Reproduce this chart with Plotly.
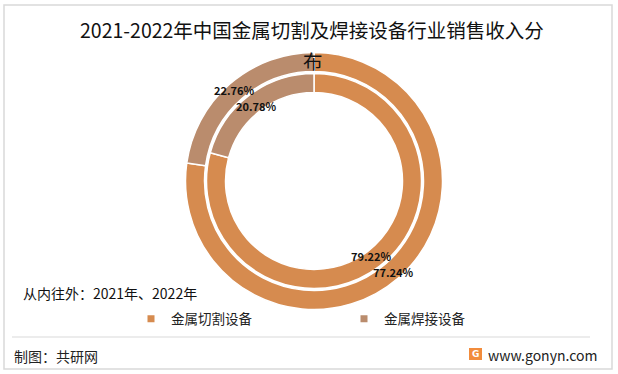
import math
import plotly.graph_objects as go

# ---- data ----
categories = ["金属切割设备", "金属焊接设备"]
values_2021 = [79.22, 20.78]   # inner ring
values_2022 = [77.24, 22.76]   # outer ring
colors = ["#D68B4F", "#BA8C6D"]

title_line1 = "2021-2022年中国金属切割及焊接设备行业销售收入分"
title_line2 = "布"
subtitle = "从内往外：2021年、2022年"
source_text = "制图：共研网"
site_text = "www.gonyn.com"

W, H = 618, 374
FONT = "Noto Sans CJK SC"


def px(x):
    return x / W


def py(y):
    return 1 - y / H


cx, cy = 314, 181
rings = [
    # (values, outer radius, inner radius, label radius)
    (values_2022, 128.5, 109.5, 121),
    (values_2021, 107.5, 88.5, 94),
]


def domain(r):
    return dict(x=[px(cx - r), px(cx + r)], y=[py(cy + r), py(cy - r)])


fig = go.Figure()
ann = []
for vals, r_out, r_in, r_lab in rings:
    fig.add_trace(go.Pie(
        labels=categories, values=vals, sort=False, direction="clockwise",
        rotation=0, hole=r_in / r_out, domain=domain(r_out),
        marker=dict(colors=colors, line=dict(color="white", width=1.5)),
        textinfo="none", showlegend=False, hoverinfo="label+value",
    ))
    # data labels at each slice's mid-angle
    total = sum(vals)
    cum = 0.0
    for v in vals:
        mid = (cum + v / 2) / total * 2 * math.pi
        cum += v
        lx = cx + r_lab * math.sin(mid)
        ly = cy - r_lab * math.cos(mid)
        ann.append(dict(text=f"<b>{v:.2f}%</b>", x=px(lx), y=py(ly),
                        xref="paper", yref="paper", xanchor="center", yanchor="middle",
                        showarrow=False,
                        font=dict(family=FONT, size=11, color="#111111")))

# legend entries
for name, col in zip(categories, colors):
    fig.add_trace(go.Scatter(
        x=[None], y=[None], mode="markers", name=name,
        marker=dict(symbol="square", size=7, color=col),
        showlegend=True,
    ))

fig.update_layout(
    width=W, height=H,
    margin=dict(l=0, r=0, t=0, b=0),
    paper_bgcolor="white", plot_bgcolor="white",
    xaxis=dict(visible=False), yaxis=dict(visible=False),
    showlegend=True,
    legend=dict(
        orientation="h", x=px(131), xanchor="left", y=py(319), yanchor="middle",
        font=dict(family=FONT, size=13.5, color="#222222"),
        entrywidth=168, entrywidthmode="pixels",
        bgcolor="rgba(0,0,0,0)", itemclick=False, itemdoubleclick=False,
    ),
    font=dict(family=FONT),
)

ann.append(dict(text=title_line1, x=px(312), y=py(30), xref="paper", yref="paper",
                xanchor="center", yanchor="middle", showarrow=False,
                font=dict(family=FONT, size=19.5, color="#111111")))
ann.append(dict(text=title_line2, x=px(313), y=py(61), xref="paper", yref="paper",
                xanchor="center", yanchor="middle", showarrow=False,
                font=dict(family=FONT, size=19.5, color="#111111")))
ann.append(dict(text=subtitle, x=px(21), y=py(293), xref="paper", yref="paper",
                xanchor="left", yanchor="middle", showarrow=False,
                font=dict(family=FONT, size=14, color="#111111")))
ann.append(dict(text=source_text, x=px(12), y=py(356), xref="paper", yref="paper",
                xanchor="left", yanchor="middle", showarrow=False,
                font=dict(family=FONT, size=14, color="#222222")))
ann.append(dict(text=site_text, x=px(486), y=py(355), xref="paper", yref="paper",
                xanchor="left", yanchor="middle", showarrow=False,
                font=dict(family=FONT, size=14, color="#222222")))
ann.append(dict(text="<b>G</b>", x=px(475.5), y=py(354), xref="paper", yref="paper",
                xanchor="center", yanchor="middle", showarrow=False,
                font=dict(family="DejaVu Sans", size=9, color="white")))
fig.update_layout(annotations=ann)

shapes = [
    # outer border
    dict(type="rect", xref="paper", yref="paper", x0=px(4), x1=px(612), y0=py(369), y1=py(5),
         line=dict(color="#D9D9D9", width=1.5), fillcolor="rgba(0,0,0,0)", layer="below"),
    # separator
    dict(type="line", xref="paper", yref="paper", x0=px(12), x1=px(590), y0=py(337), y1=py(337),
         line=dict(color="#D9D9D9", width=1)),
    # logo box
    dict(type="rect", xref="paper", yref="paper", x0=px(469), x1=px(482), y0=py(360), y1=py(348),
         line=dict(width=0), fillcolor="#F28C3C", layer="below"),
]
fig.update_layout(shapes=shapes)

fig.write_html("out.html", config={"displayModeBar": False},
               post_script="document.body.style.margin='0px';")
